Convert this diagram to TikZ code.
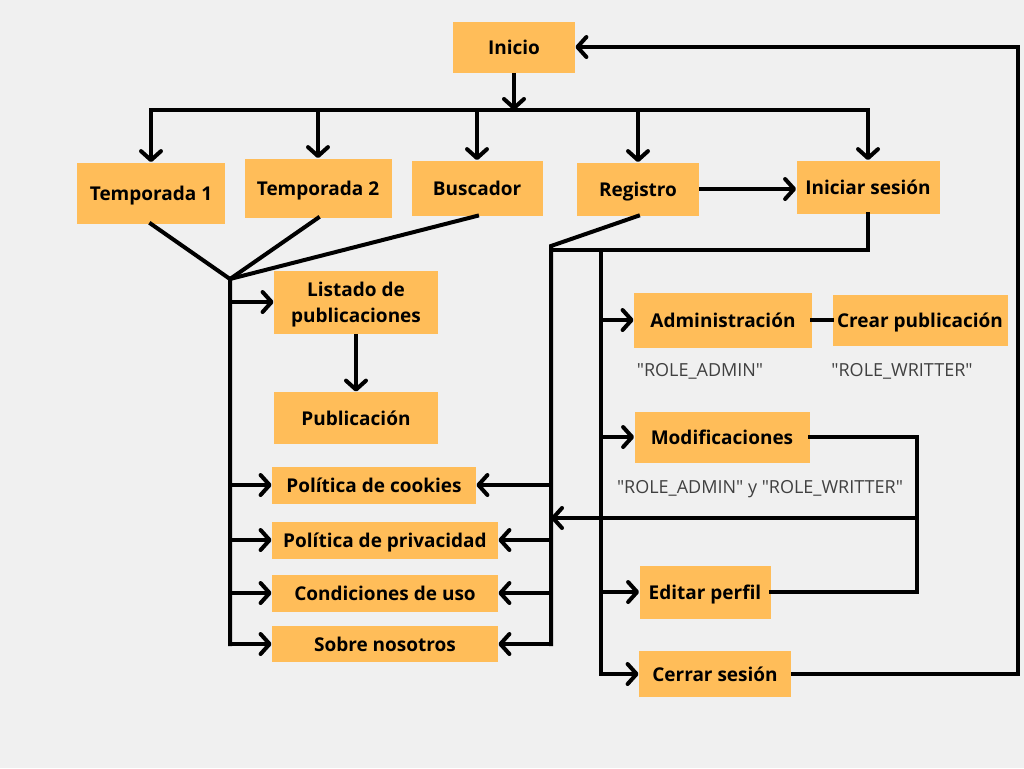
\documentclass[tikz,border=0pt]{standalone}
\usepackage{fontspec}
\setmainfont{Open Sans}
\newfontfamily\rolfont{Open Sans}[Ligatures=TeXOff]
\usetikzlibrary{arrows.meta}
\definecolor{cajas}{HTML}{FFBD59}
\definecolor{fondo}{HTML}{F0F0F0}

\begin{document}
\begin{tikzpicture}[x=0.5pt,y=-0.5pt,
    caja/.style={fill=cajas, inner sep=0pt, align=center, text depth=0pt,
      font=\bfseries\fontsize{9.5}{13}\selectfont},
    linea/.style={line width=2pt, line cap=rect},
    flecha/.style={line width=2pt, -{Straight Barb[length=4.5pt,width=10pt,round]}},
    rol/.style={font=\rolfont\fontsize{9}{11}\selectfont, text=black!75}]
    % Background
    \fill[fondo] (0,0) rectangle (1024,768);
    \useasboundingbox (0,0) rectangle (1024,768);

    % Boxes
    \node[caja, minimum width=61pt, minimum height=25.5pt] (inicio) at (514,47) {Inicio};
    \node[caja, minimum width=74pt, minimum height=30.5pt] (temp1) at (151,193) {Temporada 1};
    \node[caja, minimum width=73.5pt, minimum height=29.5pt] (temp2) at (318,188) {Temporada 2};
    \node[caja, minimum width=65.5pt, minimum height=27.5pt] (buscador) at (477,188) {Buscador};
    \node[caja, minimum width=61pt, minimum height=26.5pt] (registro) at (638,189) {Registro};
    \node[caja, minimum width=71.5pt, minimum height=26.5pt] (iniciar) at (868,187) {Iniciar sesión};
    \node[caja, minimum width=82pt, minimum height=31.5pt] (listado) at (356,302) {Listado de\\publicaciones};
    \node[caja, minimum width=82pt, minimum height=26pt] (publicacion) at (356,418) {Publicación};
    \node[caja, minimum width=102pt, minimum height=18.5pt] (cookies) at (374,485) {Política de cookies};
    \node[caja, minimum width=113pt, minimum height=18.5pt] (privacidad) at (385,540) {Política de privacidad};
    \node[caja, minimum width=113pt, minimum height=18.5pt] (condiciones) at (385,593) {Condiciones de uso};
    \node[caja, minimum width=113pt, minimum height=18pt] (sobre) at (385,644) {Sobre nosotros};
    \node[caja, minimum width=89pt, minimum height=27.5pt] (admin) at (723,320) {Administración};
    \node[caja, minimum width=87.5pt, minimum height=25.5pt] (crear) at (920,320) {Crear publicación};
    \node[caja, minimum width=87.5pt, minimum height=25.5pt] (modif) at (722,437) {Modificaciones};
    \node[caja, minimum width=65.5pt, minimum height=26.5pt] (editar) at (705,592) {Editar perfil};
    \node[caja, minimum width=76pt, minimum height=23pt] (cerrar) at (715,674) {Cerrar sesión};

    % Roles
    \node[rol] (rol1) at (700,371) {"ROLE\_ADMIN"};
    \node[rol] (rol2) at (902,371) {"ROLE\_WRITTER"};
    \node[rol] (rol3) at (760,489) {"ROLE\_ADMIN" y "ROLE\_WRITTER"};

    % Junctions
    \coordinate (b1) at (151,110);
    \coordinate (b5) at (868,110);
    \coordinate (j1) at (230,279);
    \coordinate (j2) at (551,246);
    \coordinate (j3) at (601,250);
    \coordinate (j4) at (917,437);
    \coordinate (j5) at (917,518);
    \coordinate (j6) at (1018,674);

    % Top level
    \draw[linea] (b1) -- (b5);
    \draw[flecha] (inicio) -- (inicio |- b1);
    \foreach \n in {temp1,temp2,buscador,registro,iniciar}
        \draw[flecha] (\n |- b1) -- (\n);
    \draw[flecha] (registro.east) -- (registro.east -| iniciar.west);

    % Public pages
    \draw[linea] (temp1.south) -- (j1);
    \draw[linea] (temp2.south) -- (j1);
    \draw[linea] (buscador.south) -- (j1) -- (j1 |- sobre);
    \foreach \n in {listado,cookies,privacidad,condiciones,sobre}
        \draw[flecha] (j1 |- \n) -- (\n.west);
    \draw[flecha] (listado) -- (publicacion);

    % Registered user
    \draw[linea] (registro.south) -- (j2) -- (j2 |- sobre);
    \foreach \n in {cookies,privacidad,condiciones,sobre}
        \draw[flecha] (j2 |- \n) -- (\n.east);
    \draw[linea] (iniciar.south) |- (j2 |- j3);
    \draw[linea] (j3) -- (j3 |- cerrar);
    \foreach \n in {admin,modif,editar,cerrar}
        \draw[flecha] (j3 |- \n) -- (\n.west);
    \draw[linea] (admin) -- (crear);
    \draw[linea] (modif.east) -| (j4 |- editar) -- (editar.east);
    \draw[flecha] (j5) -- (j2 |- j5);
    \draw[flecha] (cerrar.east) -| (j6 |- inicio) -- (inicio.east);
\end{tikzpicture}
\end{document}
